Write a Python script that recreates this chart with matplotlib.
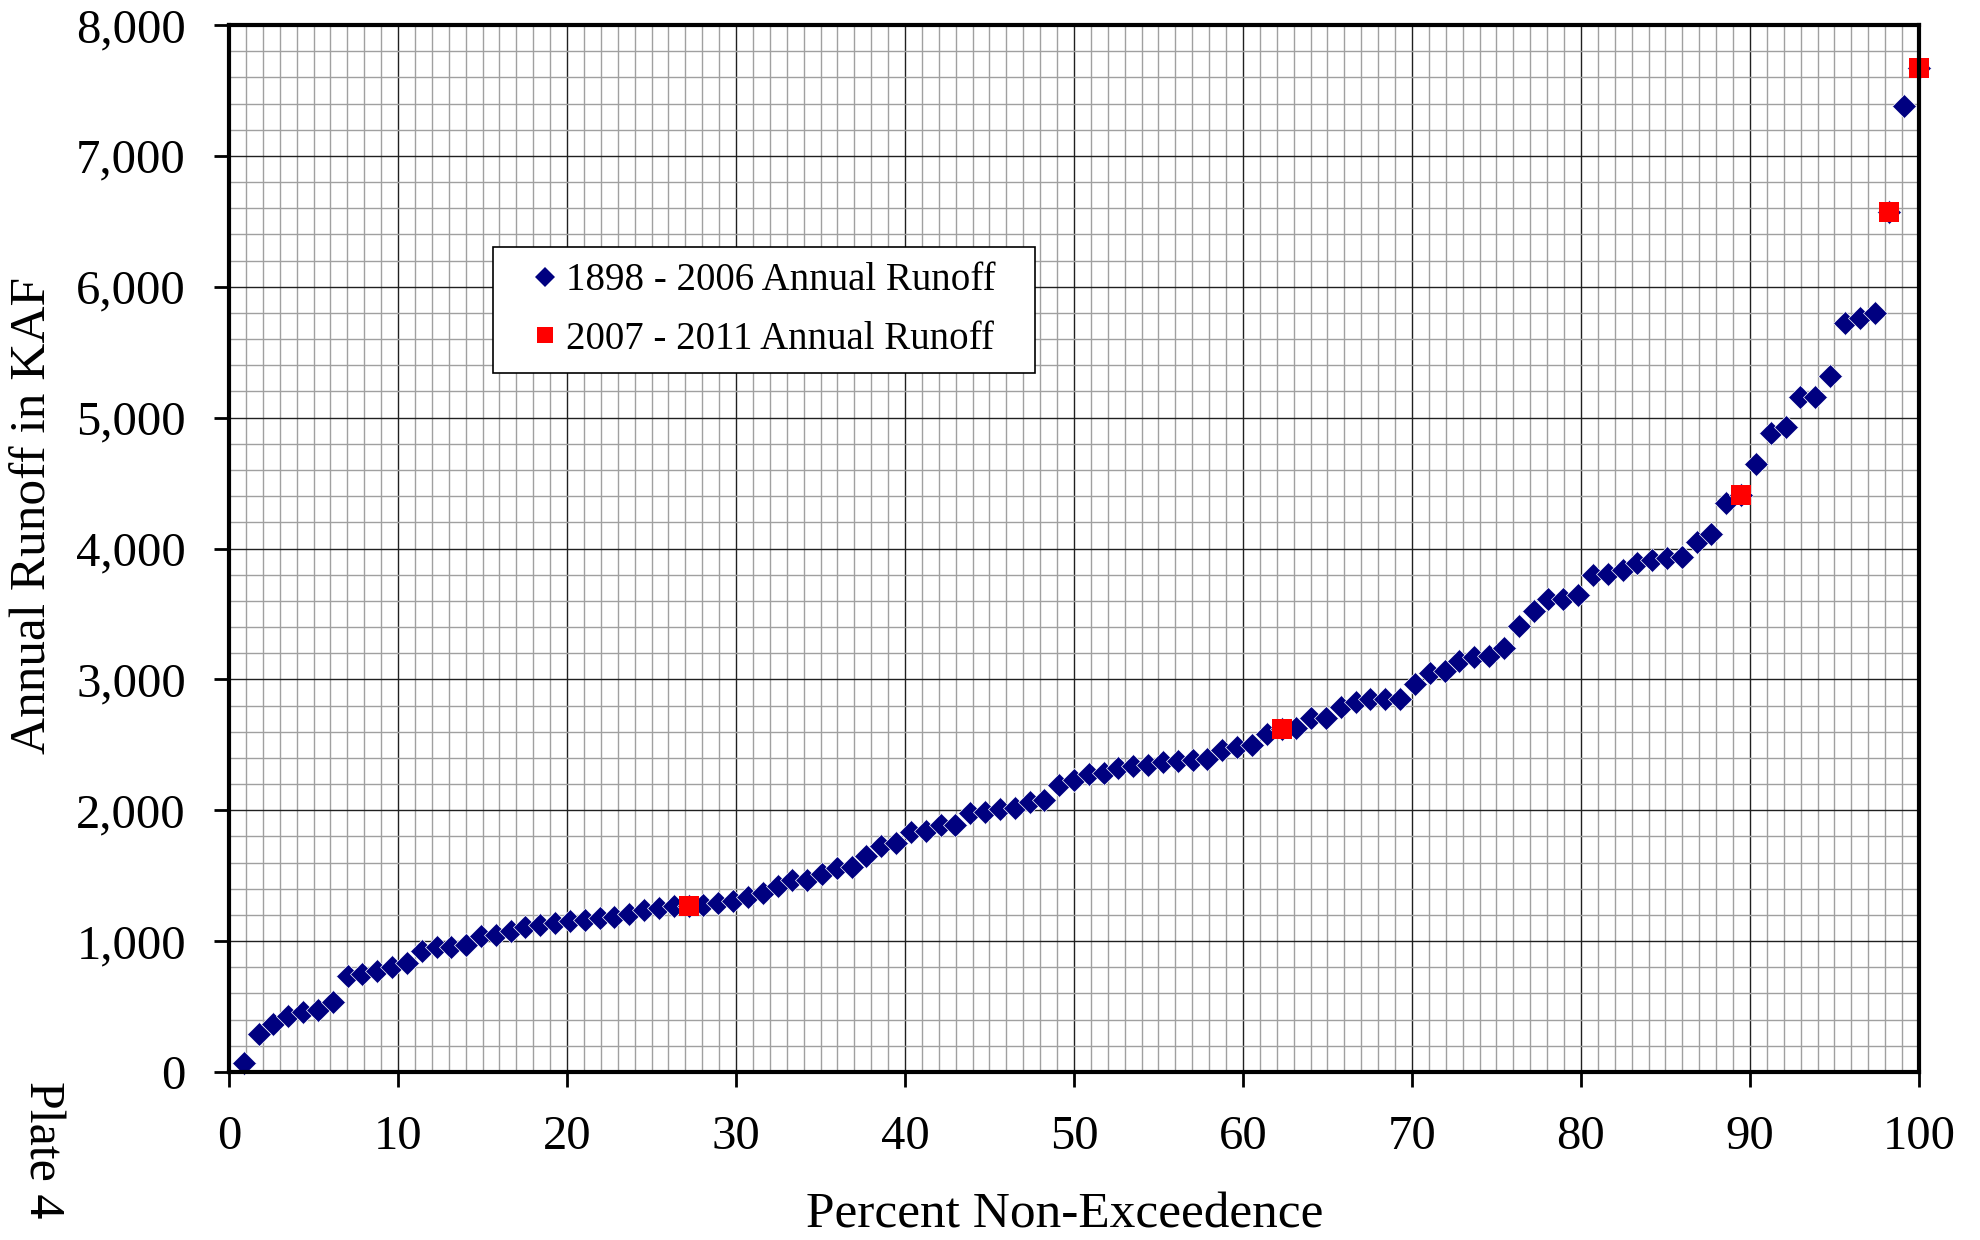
"""Annual runoff non-exceedence plot (Plate 4)."""
import matplotlib
matplotlib.use("Agg")
import matplotlib.pyplot as plt
from matplotlib.lines import Line2D
from matplotlib.patches import Rectangle
from matplotlib.ticker import FuncFormatter, MultipleLocator

# Annual runoff in KAF
runoff_1898_2006 = [
    70, 290, 370, 430, 460, 475, 535, 735, 745, 770,
    805, 830, 925, 955, 955, 970, 1040, 1045, 1075, 1105,
    1120, 1135, 1155, 1160, 1180, 1185, 1210, 1235, 1255, 1265,
    1275, 1295, 1305, 1340, 1365, 1420, 1465, 1470, 1510, 1560,
    1565, 1650, 1730, 1753, 1834, 1839, 1885, 1890, 1982, 1987,
    2013, 2018, 2064, 2076, 2196, 2229, 2280, 2285, 2324, 2339,
    2344, 2369, 2374, 2385, 2395, 2464, 2484, 2502, 2579, 2632,
    2706, 2706, 2791, 2829, 2847, 2849, 2849, 2964, 3051, 3064,
    3140, 3174, 3179, 3243, 3410, 3521, 3613, 3613, 3646, 3795,
    3805, 3833, 3892, 3910, 3926, 3936, 4051, 4110, 4346, 4645,
    4885, 4929, 5154, 5154, 5322, 5722, 5763, 5799, 7382,
]
runoff_2007_2011 = [1272, 2622, 4410, 6574, 7671]

x_ticks = list(range(0, 101, 10))
y_ticks = list(range(0, 8001, 1000))

BLUE = "#000080"
RED = "#ff0000"
FONT = "Liberation Serif"


def main() -> None:
    all_runoff = sorted(runoff_1898_2006 + runoff_2007_2011)
    n = len(all_runoff)
    # plotting position: rank / n
    pct = [100.0 * (i + 1) / n for i in range(n)]
    recent_pct = [pct[all_runoff.index(v)] for v in runoff_2007_2011]

    plt.rcParams["font.family"] = FONT

    fig = plt.figure(figsize=(19.81, 12.40), dpi=100)
    ax = fig.add_axes([0.1156, 0.1355, 0.8531, 0.8443])

    ax.plot(pct, all_runoff, linestyle="none", marker="D", markersize=12.5,
            color=BLUE, markeredgecolor="white", markeredgewidth=0.5,
            zorder=3, clip_on=False)
    ax.plot(recent_pct, runoff_2007_2011, linestyle="none", marker="s",
            markersize=14.5, color=RED, markeredgewidth=0, zorder=4, clip_on=False)

    ax.set_xlim(0, 100)
    ax.set_ylim(0, 8000)
    ax.set_xticks(x_ticks)
    ax.set_yticks(y_ticks)
    ax.xaxis.set_minor_locator(MultipleLocator(1))
    ax.yaxis.set_minor_locator(MultipleLocator(200))
    ax.yaxis.set_major_formatter(FuncFormatter(lambda v, _: f"{int(v):,}"))

    ax.grid(which="minor", color="#a0a0a0", linewidth=1.0)
    ax.grid(which="major", color="#202020", linewidth=1.0)
    ax.set_axisbelow(True)

    for s in ax.spines.values():
        s.set_linewidth(3)
        s.set_color("black")
        s.set_zorder(5)
    ax.tick_params(which="major", direction="out", length=11, width=2,
                   labelsize=35, pad=20)
    ax.tick_params(which="minor", length=0)

    fig.text(0.017, 1 - 516 / 1240, "Annual Runoff in KAF", rotation=90,
             ha="center", va="center", fontsize=37)
    fig.text(1065 / 1981, 1 - 1215 / 1240, "Percent Non-Exceedence",
             ha="center", va="center", fontsize=37)
    fig.text(42 / 1981, 1 - 1150 / 1240, "Plate 4", rotation=270,
             ha="center", va="center", fontsize=36)

    # legend box drawn on its own so the side padding can differ from the top
    box = Rectangle((0.156, 0.668), 0.321, 0.120, transform=ax.transAxes,
                    facecolor="white", edgecolor="black", linewidth=1.2,
                    zorder=6)
    ax.add_patch(box)
    handles = [
        Line2D([], [], linestyle="none", marker="D", markersize=10,
               color=BLUE, markeredgewidth=0),
        Line2D([], [], linestyle="none", marker="s", markersize=12,
               color=RED, markeredgewidth=0),
    ]
    leg = ax.legend(handles, ["1898 - 2006 Annual Runoff", "2007 - 2011 Annual Runoff"],
                    loc="center left", bbox_to_anchor=(0.178, 0.728),
                    borderaxespad=0, borderpad=0, fontsize=28, frameon=False,
                    handlelength=0.77, handletextpad=0.15, labelspacing=0.55)
    leg.set_zorder(7)

    fig.savefig("out.png", dpi=100)
    plt.close(fig)


if __name__ == "__main__":
    main()
